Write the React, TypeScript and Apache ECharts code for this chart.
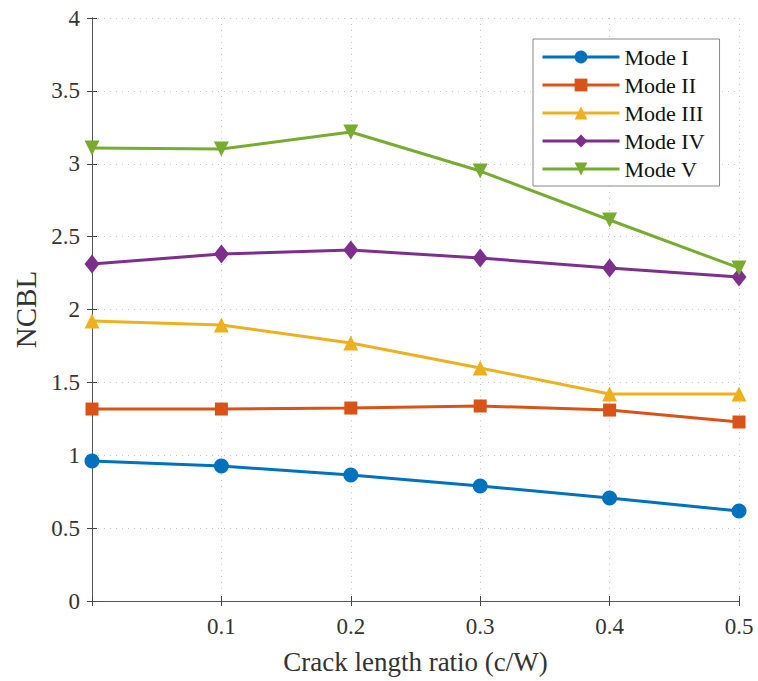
import React, { useEffect, useRef } from "react";
import * as echarts from "echarts";

const xValues = [0, 0.1, 0.2, 0.3, 0.4, 0.5];
const modeNames = ["Mode I", "Mode II", "Mode III", "Mode IV", "Mode V"];
const mode1 = [0.96, 0.926, 0.864, 0.789, 0.707, 0.617];
const mode2 = [1.317, 1.317, 1.324, 1.338, 1.31, 1.228];
const mode3 = [1.921, 1.894, 1.77, 1.599, 1.42, 1.42];
const mode4 = [2.312, 2.381, 2.408, 2.353, 2.285, 2.223];
const mode5 = [3.108, 3.101, 3.218, 2.95, 2.614, 2.285];
const colors = ["#0072BD", "#D95319", "#EDB120", "#7E2F8E", "#77AC30"];
const symbols = ["circle", "rect", "triangle", "diamond", "triangle"];
const rotations = [0, 0, 0, 0, 180];
const sizes: any[] = [15, 13, 15, [15, 19], 15];

const FONT = "Liberation Serif";

export default function App() {
  const ref = useRef<HTMLDivElement>(null);
  useEffect(() => {
    const chart = echarts.init(ref.current!, null, { renderer: "svg" });
    const all = [mode1, mode2, mode3, mode4, mode5];
    const axisLine = { show: true, lineStyle: { color: "#555", width: 1 } };
    const tick = { show: true, inside: true, length: 5, lineStyle: { color: "#444" } };
    const split = { show: true, lineStyle: { color: "#c8c8c8", type: [1, 5] as any, width: 1 } };
    chart.setOption({
      animation: false,
      backgroundColor: "#fff",
      grid: { left: 92, top: 18, right: 19, bottom: 80, containLabel: false },
      legend: {
        orient: "vertical",
        left: 533,
        top: 39,
        backgroundColor: "#fff",
        borderColor: "#888",
        borderWidth: 1,
        borderRadius: 0,
        padding: [7, 15, 6, 8],
        itemWidth: 77,
        itemHeight: 16,
        itemGap: 6,
        lineStyle: { width: 3 },
        textStyle: { fontFamily: FONT, fontSize: 22, lineHeight: 22, color: "#111" },
        data: modeNames,
      },
      xAxis: [
        {
          type: "value",
          min: 0,
          max: 0.5,
          interval: 0.1,
          name: "Crack length ratio (c/W)",
          nameLocation: "middle",
          nameGap: 47,
          nameTextStyle: { fontFamily: FONT, fontSize: 27, color: "#333" },
          axisLine,
          axisTick: tick,
          axisLabel: {
            fontFamily: FONT,
            fontSize: 23,
            color: "#333",
            margin: 14,
            formatter: (v: number) => (v === 0 ? "" : String(Math.round(v * 10) / 10)),
          },
          splitLine: split,
        },
        {
          type: "value",
          position: "top",
          min: 0,
          max: 0.5,
          interval: 0.1,
          axisLine,
          axisTick: tick,
          axisLabel: { show: false },
          splitLine: { show: false },
        },
      ],
      yAxis: [
        {
          type: "value",
          min: 0,
          max: 4,
          interval: 0.5,
          name: "NCBL",
          nameLocation: "middle",
          nameGap: 48,
          nameTextStyle: { fontFamily: FONT, fontSize: 29, color: "#333" },
          axisLine,
          axisTick: tick,
          axisLabel: { fontFamily: FONT, fontSize: 23, color: "#333", margin: 12 },
          splitLine: split,
        },
        {
          type: "value",
          position: "right",
          min: 0,
          max: 4,
          interval: 0.5,
          axisLine,
          axisTick: tick,
          axisLabel: { show: false },
          splitLine: { show: false },
        },
      ],
      series: modeNames.map((name, i) => ({
        name,
        type: "line",
        xAxisIndex: 0,
        yAxisIndex: 0,
        data: xValues.map((x, j) => [x, all[i][j]]),
        symbol: symbols[i],
        symbolSize: sizes[i],
        symbolRotate: rotations[i],
        showAllSymbol: true,
        lineStyle: { color: colors[i], width: 3 },
        itemStyle: { color: colors[i] },
        clip: false,
      })),
    });
    return () => chart.dispose();
  }, []);
  return <div ref={ref} style={{ width: 758, height: 681, position: "absolute", left: 0, top: 0 }} />;
}
